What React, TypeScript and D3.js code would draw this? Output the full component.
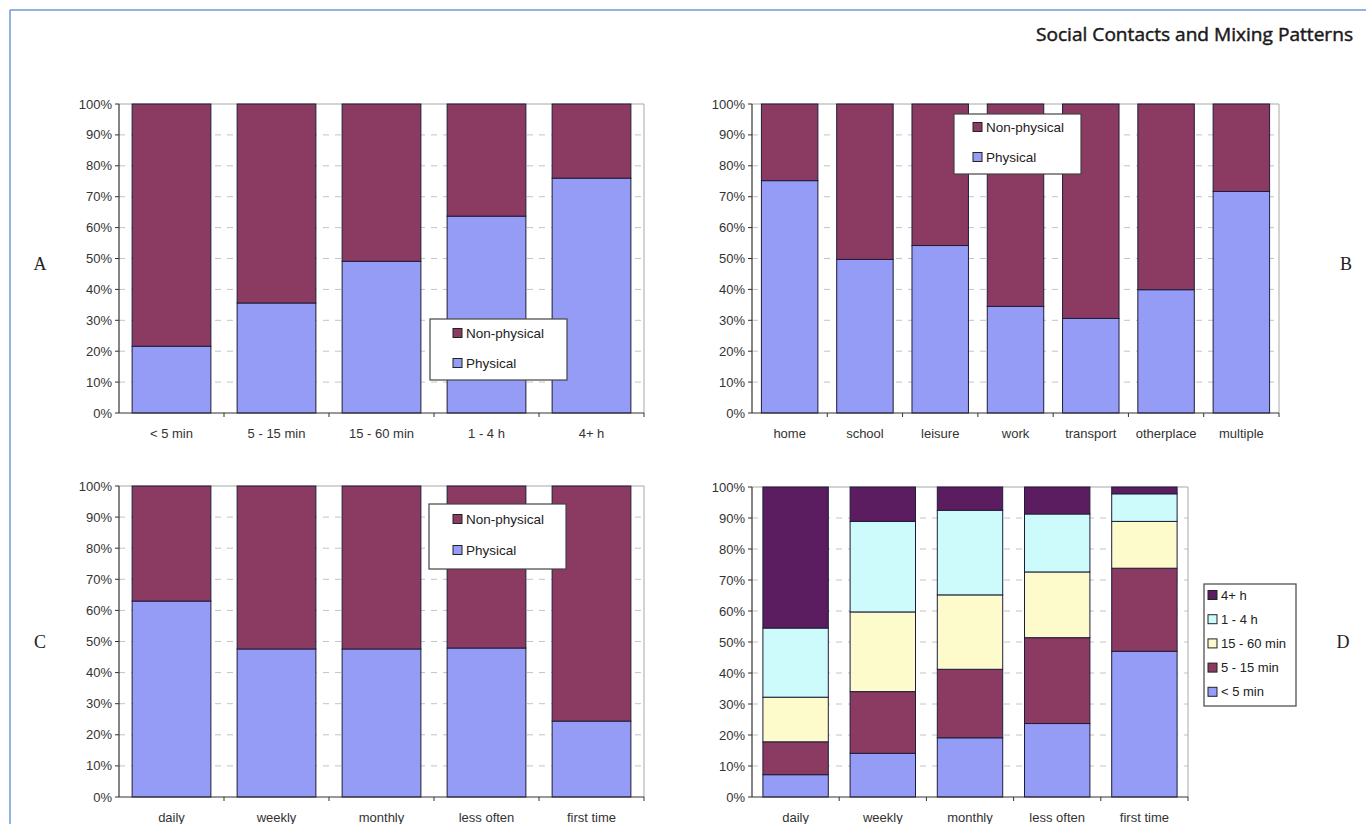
import React from "react";
import * as d3 from "d3";

// ---------- data ----------
const durationCategories = ["< 5 min", "5 - 15 min", "15 - 60 min", "1 - 4 h", "4+ h"];
const durationPhysical = [21.6, 35.6, 49.1, 63.7, 76.0];

const locationCategories = ["home", "school", "leisure", "work", "transport", "otherplace", "multiple"];
const locationPhysical = [75.2, 49.7, 54.2, 34.5, 30.6, 39.9, 71.7];

const frequencyCategories = ["daily", "weekly", "monthly", "less often", "first time"];
const frequencyPhysical = [63.0, 47.6, 47.6, 47.9, 24.4];

// Panel D: duration shares by frequency (bottom to top)
const freqLt5 = [7.2, 14.1, 19.1, 23.7, 47.0];
const freq5to15 = [10.6, 19.9, 22.1, 27.7, 26.8];
const freq15to60 = [14.4, 25.7, 24.0, 21.2, 15.1];
const freq1to4 = [22.3, 29.2, 27.3, 18.7, 8.9];
const freq4plus = [45.5, 11.1, 7.5, 8.7, 2.2];

const yTicks = [0, 10, 20, 30, 40, 50, 60, 70, 80, 90, 100];

const C_PHYS = "#959cf5";
const C_NONPHYS = "#8b3a62";
const C_4PLUS = "#5b1d5f";
const C_1TO4 = "#cdfbfb";
const C_15TO60 = "#fdfbcc";

const FONT = "'Liberation Sans', Arial, sans-serif";

type Series = { name: string; values: number[]; color: string };

function complement(v: number[]) {
  return v.map((d) => 100 - d);
}

function StackedPanel(props: {
  left: number; right: number; top: number; bottom: number;
  categories: string[]; series: Series[];
}) {
  const { left, right, top, bottom, categories, series } = props;
  const x = d3.scaleBand<string>().domain(categories).range([left, right]).paddingInner(0.25).paddingOuter(0.125);
  const y = d3.scaleLinear().domain([0, 100]).range([bottom, top]);
  const rows = categories.map((c, i) => {
    const r: any = { cat: c };
    series.forEach((s) => (r[s.name] = s.values[i]));
    return r;
  });
  const stacked = d3.stack<any>().keys(series.map((s) => s.name))(rows);
  const step = x.step();
  return (
    <g>
      {yTicks.filter((t) => t > 0 && t < 100).map((t) => (
        <line key={"g" + t} x1={left} x2={right} y1={y(t)} y2={y(t)} stroke="#c4c4c4" strokeWidth={1} strokeDasharray="6,6" />
      ))}
      <line x1={left} x2={right} y1={y(100)} y2={y(100)} stroke="#a8a8a8" strokeWidth={1} />
      <line x1={right} x2={right} y1={y(100)} y2={y(0)} stroke="#a8a8a8" strokeWidth={1} />
      {stacked.map((layer, li) => (
        <g key={layer.key}>
          {layer.map((d: any, i: number) => (
            <rect key={i} x={x(categories[i])} width={x.bandwidth()} y={y(d[1])} height={y(d[0]) - y(d[1])}
              fill={series[li].color} stroke="#1d1d3a" strokeWidth={1} />
          ))}
        </g>
      ))}
      <line x1={left} x2={left} y1={y(100)} y2={y(0)} stroke="#333" strokeWidth={1.2} />
      {yTicks.map((t) => (
        <g key={"t" + t}>
          <line x1={left - 4} x2={left} y1={y(t)} y2={y(t)} stroke="#333" strokeWidth={1} />
          <text x={left - 7} y={y(t)} dy="0.35em" textAnchor="end" fontFamily={FONT} fontSize={13} fill="#333">{t + "%"}</text>
        </g>
      ))}
      <line x1={left} x2={right} y1={y(0)} y2={y(0)} stroke="#333" strokeWidth={1.2} />
      {categories.map((c, i) => (
        <g key={"x" + i}>
          <line x1={left + step * (i + 1)} x2={left + step * (i + 1)} y1={y(0)} y2={y(0) + 4} stroke="#333" strokeWidth={1} />
          <text x={(x(c) as number) + x.bandwidth() / 2} y={y(0) + 20} dy="0.35em" textAnchor="middle" fontFamily={FONT} fontSize={13} fill="#333">{c}</text>
        </g>
      ))}
    </g>
  );
}

function Legend(props: { x: number; y: number; w: number; h: number; items: { name: string; color: string }[]; gap: number; pad: number; sx: number; fs: number }) {
  const { x, y, w, h, items, gap, pad, sx, fs } = props;
  return (
    <g>
      <rect x={x} y={y} width={w} height={h} fill="#fff" stroke="#444" strokeWidth={1.2} />
      {items.map((it, i) => (
        <g key={it.name}>
          <rect x={x + sx} y={y + pad + i * gap - 4.5} width={9} height={9} fill={it.color} stroke="#222" strokeWidth={1} />
          <text x={x + sx + 13} y={y + pad + i * gap} dy="0.35em" fontFamily={FONT} fontSize={fs} fill="#222">{it.name}</text>
        </g>
      ))}
    </g>
  );
}

export default function App() {
  const physSeries = (v: number[]): Series[] => [
    { name: "Physical", values: v, color: C_PHYS },
    { name: "Non-physical", values: complement(v), color: C_NONPHYS },
  ];
  const pnLegend = [
    { name: "Non-physical", color: C_NONPHYS },
    { name: "Physical", color: C_PHYS },
  ];
  const dSeries: Series[] = [
    { name: "< 5 min", values: freqLt5, color: C_PHYS },
    { name: "5 - 15 min", values: freq5to15, color: C_NONPHYS },
    { name: "15 - 60 min", values: freq15to60, color: C_15TO60 },
    { name: "1 - 4 h", values: freq1to4, color: C_1TO4 },
    { name: "4+ h", values: freq4plus, color: C_4PLUS },
  ];
  const dLegend = dSeries.slice().reverse().map((s) => ({ name: s.name, color: s.color }));
  const serif = "'Liberation Serif', 'Times New Roman', serif";
  return (
    <svg width={1366} height={824} style={{ position: "absolute", left: 0, top: 0, background: "#fff" }}>
      <rect x={0} y={0} width={1366} height={824} fill="#fff" />
      <line x1={10} x2={1366} y1={10} y2={10} stroke="#6a9ad8" strokeWidth={1.5} />
      <line x1={10} x2={10} y1={10} y2={824} stroke="#6a9ad8" strokeWidth={1.5} />
      <text x={1353} y={41} textAnchor="end" fontFamily="'Open Sans', sans-serif" fontWeight={400} fontSize={18}
        textLength={317} lengthAdjust="spacingAndGlyphs" fill="#1a1a1a" stroke="#1a1a1a" strokeWidth={0.45}>Social Contacts and Mixing Patterns</text>

      <StackedPanel left={119} right={644} top={104} bottom={413} categories={durationCategories} series={physSeries(durationPhysical)} />
      <Legend x={430} y={319} w={137} h={61} items={pnLegend} gap={30} pad={14} sx={23} fs={13.5} />

      <StackedPanel left={752} right={1279} top={104} bottom={413} categories={locationCategories} series={physSeries(locationPhysical)} />
      <Legend x={954} y={114} w={127} h={60} items={pnLegend} gap={30} pad={13} sx={19} fs={13.5} />

      <StackedPanel left={119} right={644} top={486} bottom={797} categories={frequencyCategories} series={physSeries(frequencyPhysical)} />
      <Legend x={429} y={504} w={137} h={65} items={pnLegend} gap={31} pad={15} sx={24} fs={13.5} />

      <StackedPanel left={752} right={1188} top={487} bottom={797} categories={frequencyCategories} series={dSeries} />
      <Legend x={1204} y={584} w={92} h={122} items={dLegend} gap={24.2} pad={11} sx={4} fs={13} />

      <text x={40} y={264} dy="0.35em" textAnchor="middle" fontFamily={serif} fontSize={18} fill="#222">A</text>
      <text x={1346} y={264} dy="0.35em" textAnchor="middle" fontFamily={serif} fontSize={18} fill="#222">B</text>
      <text x={40} y={642} dy="0.35em" textAnchor="middle" fontFamily={serif} fontSize={18} fill="#222">C</text>
      <text x={1343} y={642} dy="0.35em" textAnchor="middle" fontFamily={serif} fontSize={18} fill="#222">D</text>
    </svg>
  );
}
